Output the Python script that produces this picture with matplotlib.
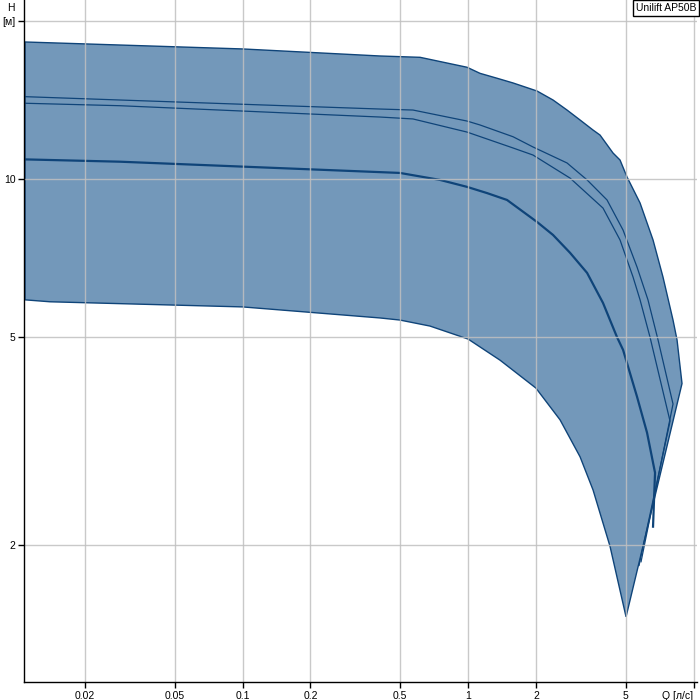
import matplotlib
matplotlib.use("Agg")
import matplotlib.pyplot as plt
from matplotlib.ticker import FixedLocator, FixedFormatter, NullLocator

plt.rcParams['font.family'] = ['Liberation Sans', 'DejaVu Sans']

# Envelope (min/max band) - upper edge from left to right tip
env_top_q = [0.01085, 0.1, 0.407, 0.613, 0.99, 1.13, 1.345, 1.584, 2.023, 2.382, 2.748, 3.139,
             3.584, 3.849, 4.395, 4.721, 5.07, 5.792, 6.613, 7.32, 8.11, 8.45, 8.89]
env_top_h = [18.26, 17.71, 17.17, 17.07, 16.34, 15.91, 15.57, 15.25, 14.72, 14.15, 13.54, 12.96,
             12.40, 12.13, 11.21, 10.87, 10.09, 9.00, 7.65, 6.50, 5.38, 4.93, 4.07]
# lower edge from right tip back to the left
env_bot_q = [5.02, 4.263, 3.584, 3.139, 2.559, 2.0, 1.387, 1.0, 0.678, 0.499, 0.407, 0.1, 0.014, 0.01085]
env_bot_h = [1.46, 1.99, 2.55, 2.95, 3.47, 3.99, 4.51, 4.95, 5.24, 5.38, 5.43, 5.70, 5.83, 5.88]

# Curve A (upper)
a_q = [0.01085, 0.0286, 0.407, 0.570, 0.99, 1.13, 1.584, 1.942, 2.748, 3.372, 4.134, 4.869,
       5.617, 6.28, 6.96, 8.11, 5.851]
a_h = [14.36, 14.15, 13.60, 13.54, 12.90, 12.68, 12.04, 11.51, 10.73, 9.96, 9.12, 7.99,
       6.79, 5.88, 4.93, 3.72, 1.86]
# Curve B
b_q = [0.01085, 0.0286, 0.407, 0.570, 0.99, 1.584, 1.942, 2.834, 3.968, 4.721, 5.392, 5.792,
       6.413, 7.867, 5.733]
b_h = [13.95, 13.80, 13.13, 13.02, 12.29, 11.46, 11.11, 10.04, 8.80, 7.65, 6.50, 5.88,
       4.99, 3.45, 1.83]
# Curve C (lower)
c_q = [0.01085, 0.0286, 0.499, 0.751, 0.99, 1.214, 1.489, 2.023, 2.382, 2.834, 3.372, 3.968,
       4.579, 4.869, 5.617, 6.22, 6.75, 6.613]
c_h = [10.90, 10.79, 10.27, 9.96, 9.66, 9.40, 9.12, 8.28, 7.82, 7.23, 6.62, 5.80,
       4.99, 4.72, 3.84, 3.28, 2.75, 2.17]

x_ticks = [0.02, 0.05, 0.1, 0.2, 0.5, 1, 2, 5, 10]
x_labels = ['0.02', '0.05', '0.1', '0.2', '0.5', '1', '2', '5', 'Q [л/с]']
y_ticks = [2, 5, 10, 20]
y_labels = ['2', '5', '10', '[м]']

fill_color = '#7398ba'
line_color = '#0f4479'

fig = plt.figure(figsize=(7, 7), dpi=100)
ax = fig.add_axes([24/700, 17.7/700, 673/700, 682.3/700])
ax.set_xscale('log')
ax.set_yscale('log')
ax.set_xlim(0.01074, 10.36)
ax.set_ylim(1.095, 21.96)

env_q = env_top_q + env_bot_q
env_h = env_top_h + env_bot_h
ax.fill(env_q, env_h, facecolor=fill_color, edgecolor=line_color, linewidth=1.0, zorder=1)

ax.plot(a_q, a_h, color=line_color, linewidth=0.9, zorder=2)
ax.plot(b_q, b_h, color=line_color, linewidth=0.9, zorder=2)
ax.plot(c_q, c_h, color=line_color, linewidth=1.6, zorder=2)

ax.xaxis.set_major_locator(FixedLocator(x_ticks))
ax.xaxis.set_major_formatter(FixedFormatter(x_labels))
ax.xaxis.set_minor_locator(NullLocator())
ax.yaxis.set_major_locator(FixedLocator(y_ticks))
ax.yaxis.set_major_formatter(FixedFormatter(y_labels))
ax.yaxis.set_minor_locator(NullLocator())

ax.set_axisbelow(False)
ax.grid(True, color='#c0c0c0', linewidth=1.0, alpha=0.85)
ax.tick_params(axis='both', length=4, width=1, labelsize=7.5, pad=2, color='black')
for s in ['top', 'right']:
    ax.spines[s].set_visible(False)
for s in ['left', 'bottom']:
    ax.spines[s].set_linewidth(1.0)
    ax.spines[s].set_color('black')
    ax.spines[s].set_zorder(3)

for lbl in ax.get_xticklabels():
    if lbl.get_text().startswith('Q'):
        lbl.set_horizontalalignment('right')

fig.text(11/700, 1 - 8/700, 'H', fontsize=7.5, ha='center', va='center')
fig.text(696/700, 1 - 8/700, 'Unilift AP50B', fontsize=7.5, ha='right', va='center',
         bbox=dict(boxstyle='square,pad=0.25', facecolor='white', edgecolor='black', linewidth=1))

fig.savefig('out.png', dpi=100)
